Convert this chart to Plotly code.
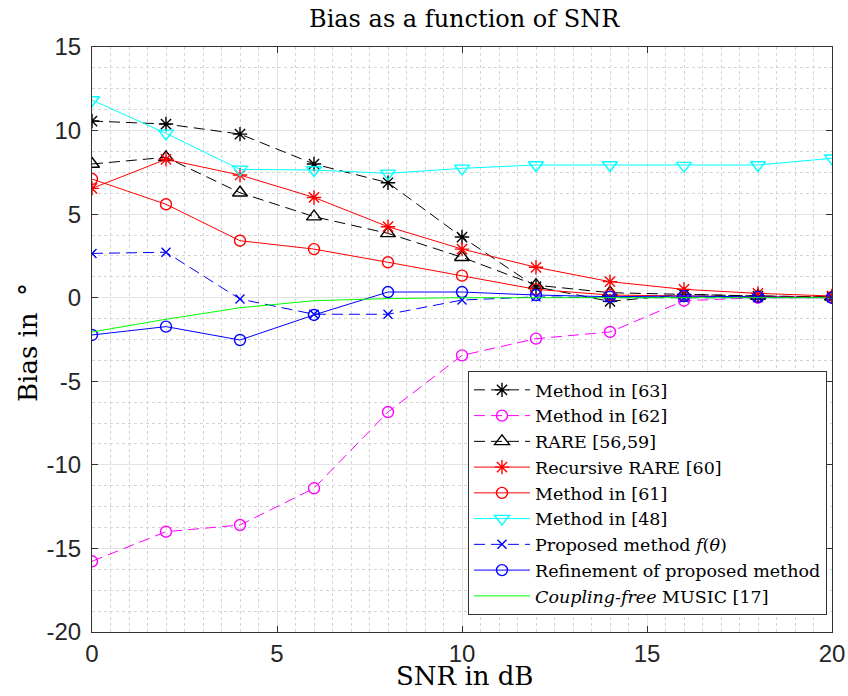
import plotly.graph_objects as go

snr = [0, 2, 4, 6, 8, 10, 12, 14, 16, 18, 20]

m63 = [10.57, 10.39, 9.79, 8.0, 6.88, 3.63, 0.65, -0.22, 0.2, 0.1, 0.05]
m62 = [-15.77, -14.0, -13.6, -11.4, -6.84, -3.45, -2.45, -2.05, -0.18, 0.0, 0.0]
rare = [8.0, 8.4, 6.28, 4.85, 3.85, 2.42, 0.75, 0.3, 0.2, 0.1, 0.05]
rrare = [6.54, 8.28, 7.34, 6.0, 4.25, 2.91, 1.82, 0.96, 0.5, 0.26, 0.1]
m61 = [7.1, 5.59, 3.41, 2.91, 2.12, 1.32, 0.5, 0.16, 0.1, 0.05, 0.03]
m48 = [11.83, 9.83, 7.68, 7.64, 7.44, 7.74, 7.94, 7.94, 7.9, 7.94, 8.34]
prop = [2.65, 2.72, -0.08, -0.99, -0.99, -0.14, 0.05, 0.0, 0.0, 0.0, 0.0]
refine = [-2.23, -1.73, -2.53, -1.03, 0.34, 0.34, 0.16, 0.06, 0.1, 0.05, 0.0]
cfree = [-2.05, -1.29, -0.6, -0.18, -0.05, 0.0, 0.0, 0.0, 0.0, 0.0, 0.0]

names = ["Method in [63]", "Method in [62]", "RARE [56,59]", "Recursive RARE [60]",
         "Method in [61]", "Method in [48]", "Proposed method <i>f</i>(<i>θ</i>)",
         "Refinement of proposed method", "<i>Coupling-free</i> MUSIC [17]"]

xticks = [0, 5, 10, 15, 20]
yticks = [15, 10, 5, 0, -5, -10, -15, -20]
ytick_text = ["15", "10", "5", "0", "-5", "-10", "-15", "-20"]

title_text = "Bias as a function of SNR"
xlabel = "SNR in dB"
ylabel = "Bias in  °"

DASH = "11px,6px"
series = [
    (m63, "black", DASH, "asterisk-open", 12),
    (m62, "#ff00ff", DASH, "circle-open", 11),
    (rare, "black", DASH, "triangle-up-open", 13),
    (rrare, "#ff0000", "solid", "asterisk-open", 12),
    (m61, "#ff0000", "solid", "circle-open", 11),
    (m48, "#00ffff", "solid", "triangle-down-open", 13),
    (prop, "#0000ff", DASH, "x-thin-open", 9),
    (refine, "#0000ff", "solid", "circle-open", 11),
    (cfree, "#00ff00", "solid", None, 0),
]

fig = go.Figure()
for (vals, col, dash, sym, sz), nm in zip(series, names):
    kw = dict(x=snr, y=vals, name=nm, line=dict(color=col, width=1, dash=dash))
    if sym:
        kw["mode"] = "lines+markers"
        kw["marker"] = dict(symbol=sym, size=sz, color=col, line=dict(color=col, width=1.4))
    else:
        kw["mode"] = "lines"
    fig.add_trace(go.Scatter(**kw))

axis_common = dict(
    showline=True, linecolor="#333333", linewidth=1, mirror="ticks",
    ticks="inside", ticklen=6, tickcolor="#333333",
    showgrid=True, gridcolor="#e3e3e3", gridwidth=1, zeroline=False,
    tickfont=dict(family="Liberation Sans", size=24, color="#262626"),
)

fig.update_xaxes(
    range=[0, 20], tickvals=xticks, ticktext=[str(v) for v in xticks],
    minor=dict(dtick=0.5, showgrid=True, gridcolor="#d4d4d4", griddash="dot", gridwidth=1),
    ticklabelstandoff=0,
    **axis_common)
fig.update_yaxes(
    range=[-20, 15], tickvals=yticks, ticktext=ytick_text,
    minor=dict(dtick=1.25, tick0=0, showgrid=True, gridcolor="#d4d4d4", griddash="dot", gridwidth=1),
    ticklabelstandoff=5,
    **axis_common)

serif = "DejaVu Serif"
fig.add_annotation(text=title_text, xref="paper", yref="paper", x=0.503, y=1.0479,
                   xanchor="center", yanchor="middle", showarrow=False,
                   font=dict(family=serif, size=24, color="black"))
fig.add_annotation(text=xlabel, xref="paper", yref="paper", x=0.503, y=-0.0752,
                   xanchor="center", yanchor="middle", showarrow=False,
                   font=dict(family=serif, size=26, color="black"))
fig.add_annotation(text=ylabel, xref="paper", yref="paper", x=-0.0865, y=0.4957,
                   xanchor="center", yanchor="middle", showarrow=False, textangle=-90,
                   font=dict(family=serif, size=26, color="black"))

fig.update_layout(
    width=848, height=696,
    margin=dict(l=92, r=16, t=47, b=64, autoexpand=False),
    paper_bgcolor="white", plot_bgcolor="white",
    legend=dict(x=0.5081, y=0.4462, xanchor="left", yanchor="top",
                bgcolor="white", bordercolor="#333333", borderwidth=1,
                font=dict(family=serif, size=17.5, color="black"),
                tracegroupgap=0, itemwidth=56),
    showlegend=True,
)

fig.write_html("out.html", config={"displayModeBar": False},
               post_script="document.body.style.margin='0px';")
